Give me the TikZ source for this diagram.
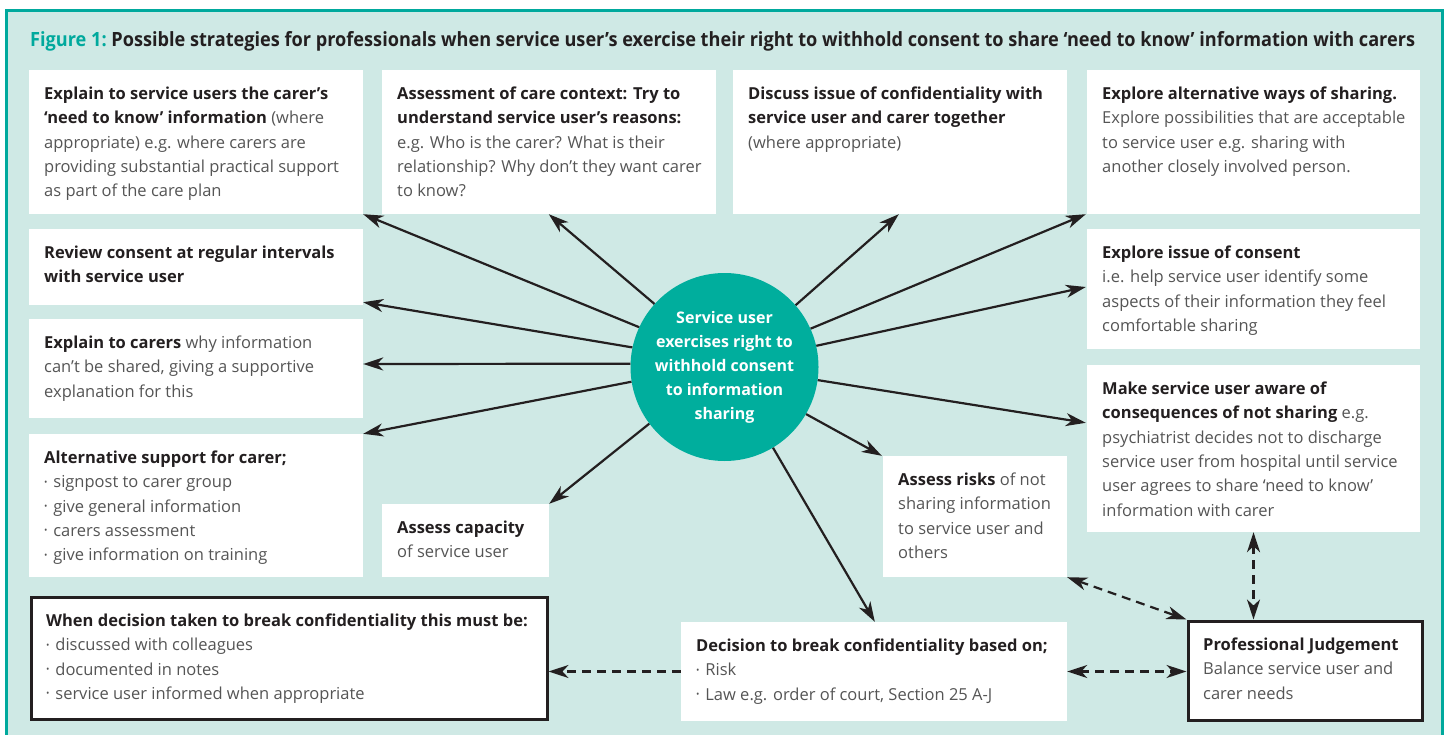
\documentclass[tikz,border=0pt]{standalone}
\usepackage{fontspec}
\setmainfont{Open Sans}
\usetikzlibrary{arrows.meta}
\definecolor{bgc}{HTML}{CFE9E5}
\definecolor{teal1}{HTML}{00A99D}
\definecolor{circ}{HTML}{00AE9D}
\definecolor{dark}{HTML}{231F20}
\definecolor{lite}{HTML}{555555}
\newcommand\B[1]{{\bfseries\color{dark}#1}}
\newcommand\bul{\raisebox{0.3ex}{\scalebox{0.55}{•}}\hspace{0.35em}}
\newcommand\txtlines[1]{\parbox[t]{700pt}{\raggedright\fontsize{16.5}{24.3}\selectfont\color{lite}#1}}
% name, x1, y1, x2, y2, style, text
\newcommand\mybox[7]{%
  \node[#6, minimum width={#4pt-#2pt}, minimum height={#5pt-#3pt}] (#1) at ({(#2+#4)/2},{(#3+#5)/2}) {};
  \node[anchor=base west, inner sep=0pt] (#1t) at ({#2+15},{#3+17}) {\txtlines{#7}};
}
\tikzset{
  wbox/.style={rectangle, fill=white, inner sep=0pt},
  fbox/.style={rectangle, fill=white, draw=dark, line width=3pt, inner sep=0pt},
  arr/.style={line width=2.2pt, draw=dark, -{Stealth[length=20pt,width=13pt,inset=6pt]}},
  darr/.style={line width=2.2pt, draw=dark, dash pattern=on 9pt off 6pt,
    {Stealth[length=20pt,width=13pt,inset=6pt]}-{Stealth[length=20pt,width=13pt,inset=6pt]}},
  sarr/.style={line width=2.2pt, draw=dark, dash pattern=on 9pt off 6pt,
    -{Stealth[length=20pt,width=13pt,inset=6pt]}},
}
\begin{document}
\begin{tikzpicture}[x=1pt,y=-1pt]
\useasboundingbox (0,0) rectangle (1447,735);
\fill[white] (0,0) rectangle (1447,735);
\draw[line width=3pt, draw=teal1, fill=bgc] (6,11) rectangle (1442,760);
\node[anchor=base west, inner sep=0pt] (title) at (30,47) {\resizebox{1385pt}{15pt}{\bfseries\color{teal1}Figure 1:\color{dark}\ Possible strategies for professionals when service user’s exercise their right to withhold consent to share ‘need to know’ information with carers}};

\mybox{A}{29}{70}{363}{214}{wbox}{\B{Explain to service users the carer’s}\\\B{‘need to know’ information} (where\\appropriate) e.g. where carers are\\providing substantial practical support\\as part of the care plan}
\mybox{Bx}{382}{70}{716}{214}{wbox}{\B{Assessment of care context: Try to}\\\B{understand service user’s reasons:}\\e.g. Who is the carer? What is their\\relationship? Why don’t they want carer\\to know?}
\mybox{C}{733}{70}{1067}{214}{wbox}{\B{Discuss issue of confidentiality with}\\\B{service user and carer together}\\(where appropriate)}
\mybox{D}{1087}{70}{1420}{214}{wbox}{\B{Explore alternative ways of sharing.}\\Explore possibilities that are acceptable\\to service user e.g. sharing with\\another closely involved person.}
\mybox{E}{29}{229}{363}{305}{wbox}{\B{Review consent at regular intervals}\\\B{with service user}}
\mybox{F}{29}{319}{363}{418}{wbox}{\B{Explain to carers} why information\\can’t be shared, giving a supportive\\explanation for this}
\mybox{G}{29}{434}{363}{577}{wbox}{\B{Alternative support for carer;}\\\bul signpost to carer group\\\bul give general information\\\bul carers assessment\\\bul give information on training}
\mybox{H}{382}{504}{549}{577}{wbox}{\B{Assess capacity}\\of service user}
\mybox{I}{1087}{229}{1420}{349}{wbox}{\B{Explore issue of consent}\\i.e. help service user identify some\\aspects of their information they feel\\comfortable sharing}
\mybox{J}{1087}{365}{1420}{532}{wbox}{\B{Make service user aware of}\\\B{consequences of not sharing} e.g.\\psychiatrist decides not to discharge\\service user from hospital until service\\user agrees to share ‘need to know’\\information with carer}
\mybox{K}{883}{456}{1067}{577}{wbox}{\B{Assess risks} of not\\sharing information\\to service user and\\others}
\mybox{L}{31}{597}{547}{719}{fbox}{\B{When decision taken to break confidentiality this must be:}\\\bul discussed with colleagues\\\bul documented in notes\\\bul service user informed when appropriate}
\mybox{M}{681}{622}{1067}{721}{wbox}{\B{Decision to break confidentiality based on;}\\\bul Risk\\\bul Law e.g. order of court, Section 25 A-J}
\mybox{N}{1188}{621}{1422}{720}{fbox}{\B{Professional Judgement}\\Balance service user and\\carer needs}

\node[circle, fill=circ, minimum size=188pt, inner sep=0pt, text=white, align=center,
  font=\bfseries\fontsize{16}{24}\selectfont] (c) at (724.5,367) {Service user\\exercises right to\\withhold consent\\to information\\sharing};

\draw[arr] (c.155.7) -- (A.south east);
\draw[arr] (c.138.2) -- ([xshift=167pt]Bx.south west);
\draw[arr] (c.41.8) -- ([xshift=166pt]C.south west);
\draw[arr] (c.24.3) -- ([xshift=-1pt]D.south west);
\draw[arr] (c.168.4) -- ([yshift=3pt]E.south east);
\draw[arr] (c.178.2) -- ([yshift=4.5pt]F.east);
\draw[arr] (c.189.2) -- (G.north east);
\draw[arr] (c.217.5) -- (H.north east);
\draw[arr] (c.13.4) -- ([yshift=2pt,xshift=-1pt]I.west);
\draw[arr] (c.352.2) -- ([yshift=-58pt,xshift=-1pt]J.north west);
\draw[arr] (c.330.9) -- ([xshift=-1pt]K.north west);
\draw[arr] (c.301.4) -- ([xshift=194pt]M.north west);

\draw[sarr] (M.west) -- (M.west -| L.east);
\draw[darr] (M.east) -- (M.east -| N.west);
\draw[darr] (K.south east) -- (N.north west);
\draw[darr] (J.south) -- (J.south |- N.north);
\end{tikzpicture}
\end{document}
